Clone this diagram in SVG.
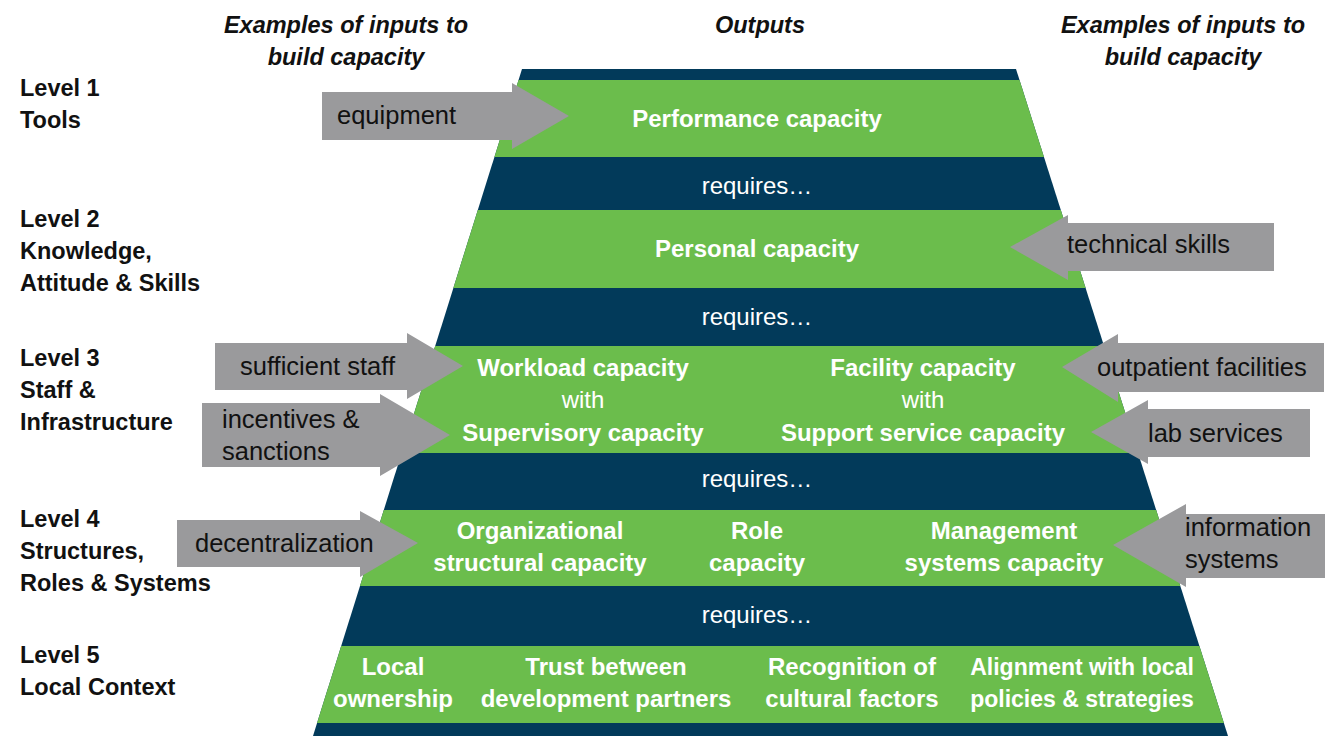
<svg xmlns="http://www.w3.org/2000/svg" width="1325" height="736" viewBox="0 0 1325 736">
<defs>
<style>
.hdr{font-family:"Liberation Sans",Arial,sans-serif;font-weight:bold;font-style:italic;font-size:23.5px;fill:#111;text-anchor:middle}
.lvl{font-family:"Liberation Sans",Arial,sans-serif;font-weight:bold;font-size:23.5px;fill:#111}
.out{font-family:"Liberation Sans",Arial,sans-serif;font-weight:bold;font-size:24px;fill:#fff;text-anchor:middle}
.req{font-family:"Liberation Sans",Arial,sans-serif;font-size:24px;fill:#fff;text-anchor:middle}
.inp{font-family:"Liberation Sans",Arial,sans-serif;font-size:25.5px;fill:#111}
.arrow{fill:#9a9a9c}
.green{fill:#6bbd4c}
</style>
<clipPath id="trap"><polygon points="522,69 1016,69 1228,736 313,736"/></clipPath>
</defs>
<rect width="1325" height="736" fill="#fff"/>

<g id="pyramid">
<polygon points="522,69 1016,69 1228,736 313,736" fill="#023a5a"/>
<g clip-path="url(#trap)">
<rect class="green" x="0" y="80" width="1325" height="77"/>
<rect class="green" x="0" y="210" width="1325" height="78"/>
<rect class="green" x="0" y="346" width="1325" height="107"/>
<rect class="green" x="0" y="510" width="1325" height="76"/>
<rect class="green" x="0" y="646" width="1325" height="77"/>
</g>
</g>

<g id="headers">
<text class="hdr" x="346" y="33">Examples of inputs to</text>
<text class="hdr" x="346" y="65">build capacity</text>
<text class="hdr" x="760" y="33">Outputs</text>
<text class="hdr" x="1183" y="33">Examples of inputs to</text>
<text class="hdr" x="1183" y="65">build capacity</text>
</g>

<g id="levels">
<text class="lvl" x="20" y="96">Level 1</text>
<text class="lvl" x="20" y="128">Tools</text>
<text class="lvl" x="20" y="227">Level 2</text>
<text class="lvl" x="20" y="259">Knowledge,</text>
<text class="lvl" x="20" y="291">Attitude &amp; Skills</text>
<text class="lvl" x="20" y="366">Level 3</text>
<text class="lvl" x="20" y="398">Staff &amp;</text>
<text class="lvl" x="20" y="430">Infrastructure</text>
<text class="lvl" x="20" y="527">Level 4</text>
<text class="lvl" x="20" y="559">Structures,</text>
<text class="lvl" x="20" y="591">Roles &amp; Systems</text>
<text class="lvl" x="20" y="663">Level 5</text>
<text class="lvl" x="20" y="695">Local Context</text>
</g>

<g id="outputs">
<text class="out" x="757" y="127">Performance capacity</text>
<text class="req" x="757" y="194">requires…</text>
<text class="out" x="757" y="257">Personal capacity</text>
<text class="req" x="757" y="325">requires…</text>
<text class="out" x="583" y="376">Workload capacity</text>
<text class="req" x="583" y="408">with</text>
<text class="out" x="583" y="441">Supervisory capacity</text>
<text class="out" x="923" y="376">Facility capacity</text>
<text class="req" x="923" y="408">with</text>
<text class="out" x="923" y="441">Support service capacity</text>
<text class="req" x="757" y="487">requires…</text>
<text class="out" x="540" y="539">Organizational</text>
<text class="out" x="540" y="571">structural capacity</text>
<text class="out" x="757" y="539">Role</text>
<text class="out" x="757" y="571">capacity</text>
<text class="out" x="1004" y="539">Management</text>
<text class="out" x="1004" y="571">systems capacity</text>
<text class="req" x="757" y="623">requires…</text>
<text class="out" x="393" y="675">Local</text>
<text class="out" x="393" y="707">ownership</text>
<text class="out" x="606" y="675">Trust between</text>
<text class="out" x="606" y="707">development partners</text>
<text class="out" x="852" y="675">Recognition of</text>
<text class="out" x="852" y="707">cultural factors</text>
<text class="out" x="1082" y="675" style="font-size:23px">Alignment with local</text>
<text class="out" x="1082" y="707" style="font-size:23px">policies &amp; strategies</text>
</g>

<g id="connectors">
<g id="in-equipment">
<polygon class="arrow" points="322,92 512,92 512,83 569,116 512,149 512,140 322,140"/>
<text class="inp" x="337" y="124">equipment</text>
</g>
<g id="in-technical-skills">
<polygon class="arrow" points="1274,223 1068,223 1068,215 1010,247 1068,280 1068,271 1274,271"/>
<text class="inp" x="1067" y="253">technical skills</text>
</g>
<g id="in-sufficient-staff">
<polygon class="arrow" points="215,343 407,343 407,333 463,366 407,399 407,390 215,390"/>
<text class="inp" x="240" y="375">sufficient staff</text>
</g>
<g id="in-incentives">
<polygon class="arrow" points="202,403 380,403 380,394 450,435 380,476 380,467 202,467"/>
<text class="inp" x="222" y="428">incentives &amp;</text>
<text class="inp" x="222" y="460">sanctions</text>
</g>
<g id="in-outpatient">
<polygon class="arrow" points="1324,343 1118,343 1118,334 1062,367 1118,402 1118,392 1324,392"/>
<text class="inp" x="1097" y="376">outpatient facilities</text>
</g>
<g id="in-lab">
<polygon class="arrow" points="1310,409 1148,409 1148,400 1091,432 1148,464 1148,457 1310,457"/>
<text class="inp" x="1148" y="442">lab services</text>
</g>
<g id="in-decentralization">
<polygon class="arrow" points="177,520 360,520 360,511 418,543 360,577 360,567 177,567"/>
<text class="inp" x="195" y="552">decentralization</text>
</g>
<g id="in-information">
<polygon class="arrow" points="1325,514 1186,514 1186,504 1113,545 1186,587 1186,578 1325,578"/>
<text class="inp" x="1185" y="536">information</text>
<text class="inp" x="1185" y="568">systems</text>
</g>
</g>
</svg>
